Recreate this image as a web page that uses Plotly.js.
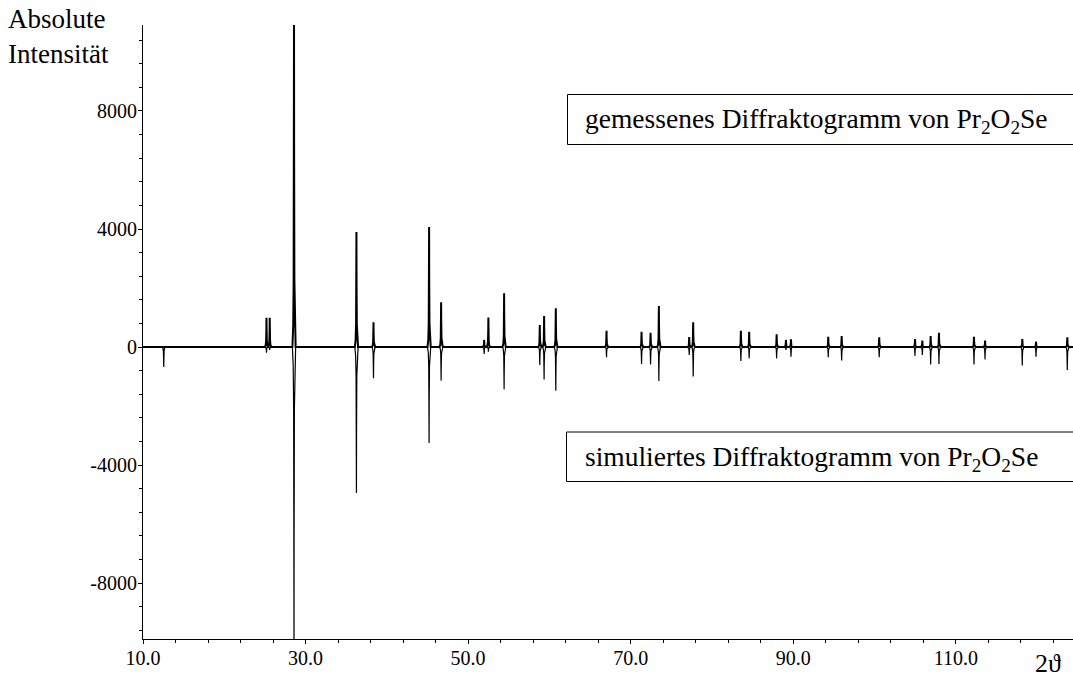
<!DOCTYPE html>
<html>
<head>
<meta charset="utf-8">
<script src="https://cdn.plot.ly/plotly-3.0.1.min.js"></script>
<style>html,body{margin:0;padding:0;background:#fff;}#chart{width:1073px;height:677px;}</style>
</head>
<body>
<div id="chart"></div>
<script>
// Reflex positions (2 theta, degrees)
const peakPos = [12.55, 25.19, 25.59, 28.58, 36.26, 38.36, 45.20, 46.68, 51.97, 52.49,
                 54.43, 58.82, 59.35, 60.79, 67.03, 71.34, 72.45, 73.47, 77.20, 77.69,
                 83.56, 84.58, 87.96, 89.10, 89.72, 94.31, 95.96, 100.58, 104.98, 105.88,
                 106.91, 107.93, 112.24, 113.60, 118.18, 119.87, 123.72];
// measured intensities (upwards)
const measured = [0, 990, 990, 11500, 3900, 840, 4070, 1515, 240, 1000,
                  1820, 745, 1050, 1310, 550, 520, 485, 1390, 340, 840,
                  550, 520, 430, 240, 260, 350, 370, 330, 270, 215,
                  370, 485, 350, 215, 270, 180, 330];
// simulated intensities (drawn downwards)
const simulated = [-680, -190, -100, -10500, -4950, -1060, -3250, -1140, -240, -160,
                   -1430, -610, -1100, -1480, -350, -580, -590, -1150, -270, -1000,
                   -475, -385, -385, -100, -330, -350, -460, -350, -300, -270,
                   -590, -580, -590, -420, -630, -330, -780];
const xTickVals = [10, 30, 50, 70, 90, 110];
const xTickText = ['10.0', '30.0', '50.0', '70.0', '90.0', '110.0'];
const yTickVals = [-8000, -4000, 0, 4000, 8000];
const yTickText = ['-8000', '-4000', '0', '4000', '8000'];

// drawing style of one reflex (offset in degrees, fraction of height)
const profDx = [-0.2, -0.1, -0.045, -0.012, 0, 0.012, 0.045, 0.1, 0.2];
const profF  = [0, 0.06, 0.2, 0.6, 1, 0.6, 0.2, 0.06, 0];
const X0 = 10, X1 = 124.42;

function buildTrace(heights) {
  const xs = [X0], ys = [0];
  for (let i = 0; i < peakPos.length; i++) {
    if (heights[i] === 0) continue;
    for (let k = 0; k < profDx.length; k++) {
      xs.push(peakPos[i] + profDx[k]);
      ys.push(heights[i] * profF[k]);
    }
  }
  xs.push(X1); ys.push(0);
  return {x: xs, y: ys};
}

const m = buildTrace(measured);
const s = buildTrace(simulated);
const FONT = 'Liberation Serif, Times New Roman, serif';

const data = [
  {x: s.x, y: s.y, type: 'scatter', mode: 'lines', line: {color: '#000', width: 1.2}, hoverinfo: 'skip'},
  {x: m.x, y: m.y, type: 'scatter', mode: 'lines', line: {color: '#000', width: 2}, hoverinfo: 'skip'}
];

function px(p) { return (p - 143) / 930; }
function py(p) { return (639 - p) / 614; }

const layout = {
  width: 1073, height: 677,
  margin: {l: 143, r: 0, t: 25, b: 38},
  paper_bgcolor: '#fff', plot_bgcolor: '#fff',
  showlegend: false,
  font: {family: FONT, color: '#000', size: 20},
  xaxis: {
    range: [X0, X1], tickvals: xTickVals, ticktext: xTickText,
    showline: true, linecolor: '#000', linewidth: 1, mirror: false,
    ticks: 'outside', ticklen: 4, tickcolor: '#000', tickwidth: 1,
    ticklabelstandoff: -3,
    showgrid: false, zeroline: false,
    tickfont: {family: FONT, size: 20, color: '#000'},
    minor: {dtick: 4, tick0: 10, ticks: 'outside', ticklen: 3, tickcolor: '#000', showgrid: false}
  },
  yaxis: {
    range: [-9898, 10915], tickvals: yTickVals, ticktext: yTickText,
    showline: true, linecolor: '#000', linewidth: 1,
    ticks: 'outside', ticklen: 4, tickcolor: '#000', tickwidth: 1,
    ticklabelstandoff: -3,
    showgrid: false, zeroline: false,
    tickfont: {family: FONT, size: 20, color: '#000'},
    minor: {dtick: 800, tick0: 0, ticks: 'outside', ticklen: 3, tickcolor: '#000', showgrid: false}
  },
  shapes: [
    {type: 'rect', xref: 'paper', yref: 'paper', x0: px(567.5), x1: 1.02, y0: py(144.5), y1: py(94.5),
     line: {color: '#000', width: 1}, fillcolor: 'rgba(0,0,0,0)'},
    {type: 'rect', xref: 'paper', yref: 'paper', x0: px(566.5), x1: 1.02, y0: py(481.5), y1: py(432),
     line: {color: '#000', width: 1}, fillcolor: 'rgba(0,0,0,0)'}
  ],
  annotations: [
    {text: 'Absolute<br>Intensität', xref: 'paper', yref: 'paper', x: px(6), y: py(2),
     xanchor: 'left', yanchor: 'top', align: 'left', showarrow: false,
     font: {family: FONT, size: 27, color: '#000'}},
    {text: 'gemessenes Diffraktogramm von Pr<sub>2</sub>O<sub>2</sub>Se', xref: 'paper', yref: 'paper',
     x: px(583), y: py(121), xanchor: 'left', yanchor: 'middle', showarrow: false,
     font: {family: FONT, size: 27.5, color: '#000'}},
    {text: 'simuliertes Diffraktogramm von Pr<sub>2</sub>O<sub>2</sub>Se', xref: 'paper', yref: 'paper',
     x: px(583), y: py(458), xanchor: 'left', yanchor: 'middle', showarrow: false,
     font: {family: FONT, size: 27.5, color: '#000'}},
    {text: '2ϑ', xref: 'paper', yref: 'paper', x: px(1048), y: py(663),
     xanchor: 'center', yanchor: 'middle', showarrow: false,
     font: {family: FONT, size: 26, color: '#000'}}
  ]
};

Plotly.newPlot('chart', data, layout, {staticPlot: true, displayModeBar: false});
</script>
</body>
</html>
